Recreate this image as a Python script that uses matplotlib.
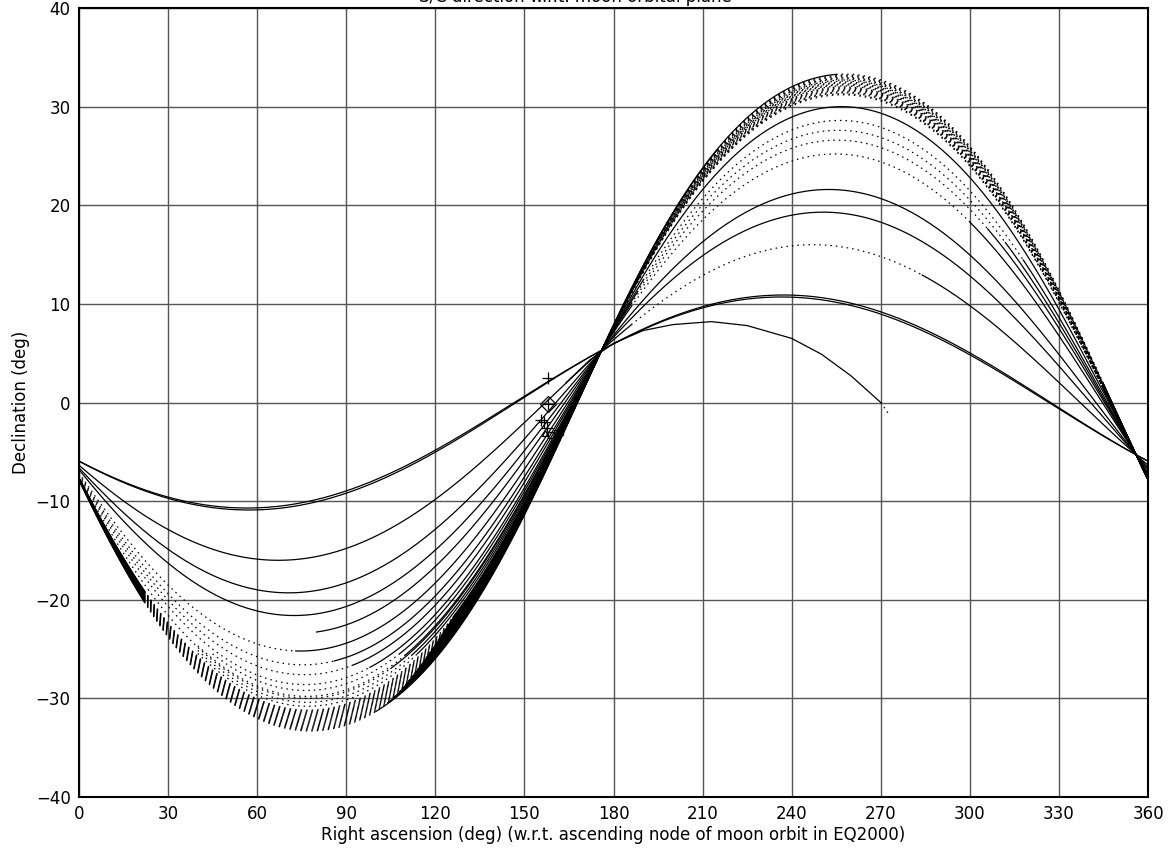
import matplotlib
matplotlib.use("Agg")
import matplotlib.pyplot as plt
import numpy as np

# all the circles pass through this point (and its antipode at ra+180)
pivot_ra = 176.0
pivot_dec = 5.3

# dense bundle of early revolutions: inclination of each circle (deg)
bundle_incl = [33.3, 33.2, 33.1, 33.0, 32.9, 32.8, 32.7, 32.6, 32.5, 32.4, 32.3,
               32.2, 32.1, 32.0, 31.9, 31.8, 31.7, 31.6, 31.5, 31.4, 31.3, 31.2]
# solid part of each bundle circle in the middle band (RA, deg)
bundle_solid_start = [100, 104, 106, 108, 109, 110, 111, 112, 113, 114, 115,
                      116, 117, 118, 119, 120, 121, 122, 123, 124, 125, 126]
bundle_solid_end = [255, 215, 205, 176, 176, 175, 176, 174, 176, 175, 173,
                    176, 174, 172, 176, 175, 174, 173, 176, 175, 176, 175]

# short pieces in the middle band (dotted before, solid up to the end RA)
band_incl = [23.4, 29.2, 29.8, 30.4, 30.8]
band_dot_from = [80, 45, 40, 40, 40]
band_start = [80, 108, 110, 112, 114]
band_end = [176, 176, 176, 176, 176]

# later revolutions, well apart from each other
sparse_incl = [30.0, 28.6, 27.6, 26.6, 25.2, 21.6, 19.3, 16.0, 10.9, 10.7]
sparse_solid = [
    [(105, 360)],
    [(98, 190), (318, 360)],
    [(92, 188), (312, 360)],
    [(86, 186), (306, 360)],
    [(73, 186), (300, 360)],
    [(0, 360)],
    [(0, 360)],
    [(0, 186), (284, 360)],
    [(0, 360)],
    [(0, 360)],
]

# last arc, read point by point
last_ra = [164, 172, 180, 190, 200, 213, 225, 240, 250, 260, 270]
last_dec = [2.0, 4.3, 6.0, 7.3, 7.9, 8.2, 7.8, 6.5, 4.9, 2.7, 0.0]
tail_ra = [270, 273]
tail_dec = [0.0, -1.3]

# event markers
mark_ra = [158.0, 158.0, 158.0, 155.5, 156.5, 157.5, 157.0, 159.0, 161.0, 162.0]
mark_dec = [2.5, -0.2, -0.2, -1.8, -2.0, -2.6, -3.1, -3.3, -3.1, -3.0]
mark_sym = ['+', 'D', '+', '+', '+', '+', '^', 's', 's', 's']

dotted = (0, (1.2, 3.2))


def circle(incl, ra):
    t = np.tan(np.radians(incl))
    node = pivot_ra - np.degrees(np.arcsin(np.tan(np.radians(pivot_dec)) / t))
    return np.degrees(np.arctan(t * np.sin(np.radians(ra - node))))


def piece(ax, incl, a, b, ls):
    if b <= a:
        return
    ra = np.linspace(a, b, int((b - a) * 3) + 2)
    ax.plot(ra, circle(incl, ra), color='black', lw=0.9, linestyle=ls)


def draw(ax, incl, solid):
    # solid where asked, dotted everywhere else
    last = 0
    for a, b in solid:
        if a > last:
            piece(ax, incl, last, a, dotted)
        piece(ax, incl, a, b, '-')
        last = b
    if last < 360:
        piece(ax, incl, last, 360, dotted)


fig = plt.figure(figsize=(11.71, 8.5), dpi=100)
ax = fig.add_axes([79 / 1171, 1 - 797 / 850, (1148 - 79) / 1171, (797 - 8) / 850])

for inc, s, e in zip(bundle_incl, bundle_solid_start, bundle_solid_end):
    draw(ax, inc, [(0, 22), (s, e), (345, 360)])

for inc, d0, s, e in zip(band_incl, band_dot_from, band_start, band_end):
    piece(ax, inc, d0, s, dotted)
    piece(ax, inc, s, e, '-')

for inc, sol in zip(sparse_incl, sparse_solid):
    draw(ax, inc, sol)

ax.plot(last_ra, last_dec, color='black', lw=0.9)
ax.plot(tail_ra, tail_dec, color='black', lw=0.9, linestyle=dotted)

for r, d, m in zip(mark_ra, mark_dec, mark_sym):
    ax.plot(r, d, marker=m, ms=8 if m in '+D' else 5, mfc='none', mec='black', mew=0.9,
            linestyle='none')

ax.set_xlim(0, 360)
ax.set_ylim(-40, 40)
ax.set_xticks(np.arange(0, 361, 30))
ax.set_yticks(np.arange(-40, 41, 10))
ax.grid(True, color='#555555', lw=1)
ax.tick_params(length=0, labelsize=12, pad=6)
for sp in ax.spines.values():
    sp.set_linewidth(1.5)

ax.set_xlabel('Right ascension (deg) (w.r.t. ascending node of moon orbit in EQ2000)',
              fontsize=12, labelpad=2)
ax.set_ylabel('Declination (deg)', fontsize=12, labelpad=4)
# the title sits mostly above the top edge, as in the original
fig.text(575 / 1171, 1 - 2 / 850, 'S/C direction w.r.t. moon orbital plane',
         ha='center', va='baseline', fontsize=12)

fig.savefig('out.png', dpi=100)
